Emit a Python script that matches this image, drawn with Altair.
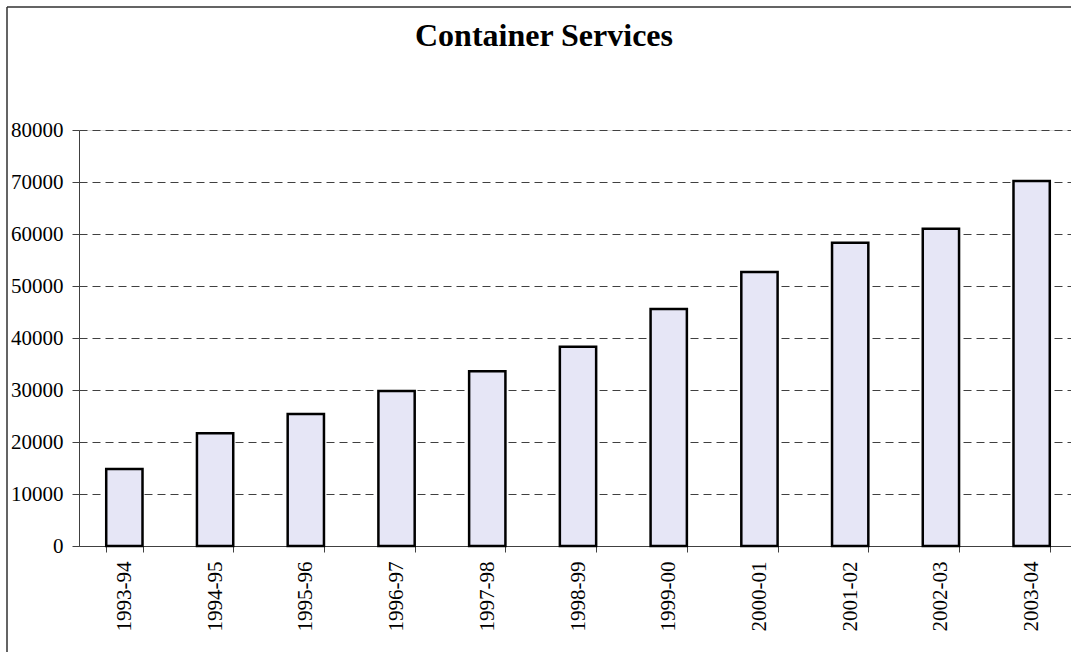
import altair as alt
import pandas as pd

years = ["1993-94", "1994-95", "1995-96", "1996-97", "1997-98", "1998-99",
         "1999-00", "2000-01", "2001-02", "2002-03", "2003-04"]
values = [14800, 21700, 25400, 29800, 33600, 38300, 45600, 52700, 58300, 61000, 70200]
y_ticks = [0, 10000, 20000, 30000, 40000, 50000, 60000, 70000, 80000]
title_text = "Container Services"

df = pd.DataFrame({"year": years, "value": values})
FONT = "Liberation Serif"

W = 992
H = 416

bars = alt.Chart(df).mark_bar(
    fill="#e6e6f6", stroke="black", strokeWidth=2.5
).encode(
    x=alt.X(
        "year:N", sort=years,
        scale=alt.Scale(paddingInner=0.6, paddingOuter=0.3, range=[0, 998]),
        axis=alt.Axis(
            title=None, labelAngle=270, labelFont=FONT, labelFontSize=21,
            labelColor="black", tickBand="extent", tickSize=6,
            domainColor="#404040", tickColor="#404040", labelPadding=9,
            grid=False, labelAlign="right", labelBaseline="middle",
        ),
    ),
    y=alt.Y(
        "value:Q",
        scale=alt.Scale(domain=[0, 80000], nice=False),
        axis=alt.Axis(
            title=None, values=y_ticks, grid=True, gridDash=[8, 5],
            gridColor="#404040", gridWidth=1, tickSize=7, labelPadding=9,
            labelFont=FONT, labelFontSize=21, labelColor="black",
            domainColor="#404040", tickColor="#404040", format="d",
        ),
    ),
)

one = pd.DataFrame({"k": [0]})
frame_top = alt.Chart(one).mark_rule(color="#303030", strokeWidth=1.5).encode(
    x=alt.value(-72), x2=alt.value(1010), y=alt.value(-123)
)
frame_left = alt.Chart(one).mark_rule(color="#303030", strokeWidth=1.5).encode(
    x=alt.value(-72), y=alt.value(-123), y2=alt.value(540)
)
title = alt.Chart(one).mark_text(
    font=FONT, fontSize=32, fontWeight="bold", color="black",
    align="center", baseline="alphabetic"
).encode(x=alt.value(465), y=alt.value(-84), text=alt.value(title_text))

chart = alt.layer(bars, frame_top, frame_left, title).properties(
    width=W, height=H,
    autosize=alt.AutoSizeParams(type="none"),
    padding={"left": 79, "top": 130, "right": 0, "bottom": 106},
).configure_view(stroke=None).configure(background="white")

chart.save("out.html", embed_options={"renderer": "svg", "actions": False})
